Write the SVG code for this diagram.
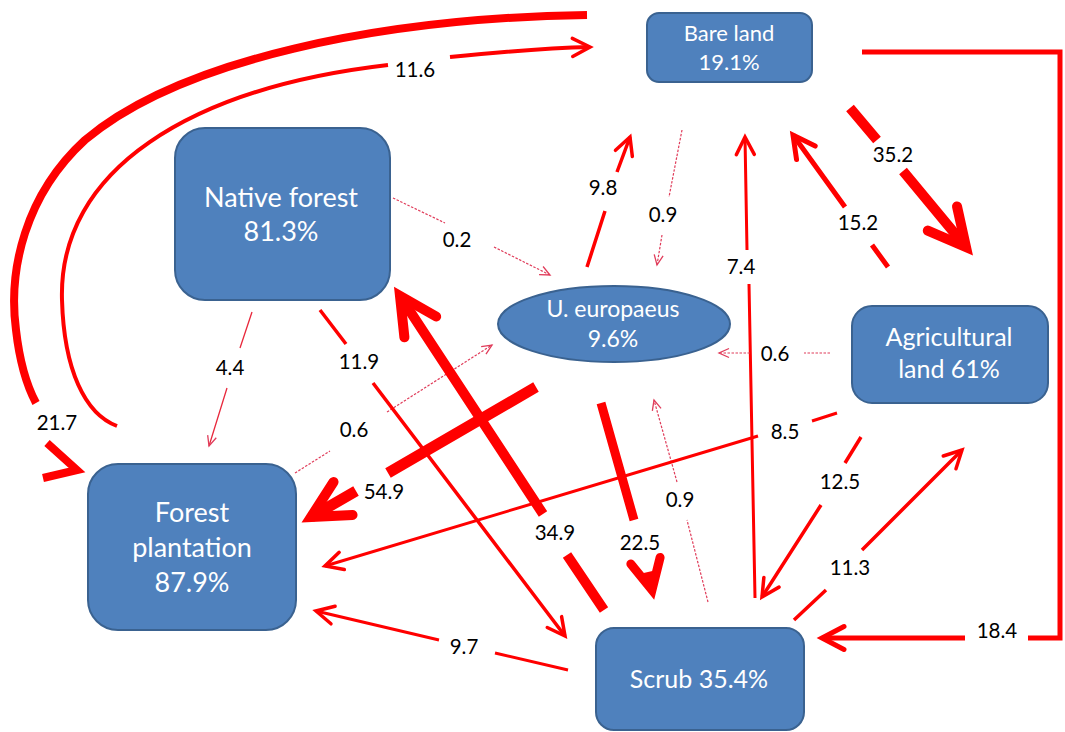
<svg xmlns="http://www.w3.org/2000/svg" width="1065" height="732" viewBox="0 0 1065 732">
<style>
.node{fill:#4F81BD;stroke:#3A6290;stroke-width:2}
.nt{font-family:Lato,"Liberation Sans",sans-serif;fill:#ffffff;text-anchor:middle}
.lb{font-family:Lato,"Liberation Sans",sans-serif;font-size:20.5px;fill:#000000;text-anchor:middle}
.c{fill:none;stroke:#FF0000;stroke-linejoin:miter}
.dot{fill:none;stroke:#E03C5A;stroke-width:1.2;stroke-dasharray:2.5 1.5}
.thin{fill:none;stroke:#E8283C;stroke-width:1.3}
</style>
<defs>
<marker id="aThick" markerUnits="userSpaceOnUse" viewBox="0 0 70 70" markerWidth="70" markerHeight="70" refX="55" refY="35" orient="auto" overflow="visible">
<path d="M18,16 L55,35 L18,54" fill="none" stroke="#FF0000" stroke-width="10" stroke-linecap="round" stroke-linejoin="miter"/>
</marker>
<marker id="aMid" markerUnits="userSpaceOnUse" viewBox="0 0 60 60" markerWidth="60" markerHeight="60" refX="45" refY="30" orient="auto" overflow="visible">
<path d="M15,15 L45,30 L15,45" fill="none" stroke="#FF0000" stroke-width="9" stroke-linecap="round" stroke-linejoin="miter"/>
</marker>
<marker id="aBig" markerUnits="userSpaceOnUse" viewBox="0 0 40 40" markerWidth="40" markerHeight="40" refX="30" refY="20" orient="auto" overflow="visible">
<path d="M8,8.5 L30,20 L8,31.5" fill="none" stroke="#FF0000" stroke-width="5" stroke-linecap="round" stroke-linejoin="miter"/>
</marker>
<marker id="aMed" markerUnits="userSpaceOnUse" viewBox="0 0 30 24" markerWidth="30" markerHeight="24" refX="24" refY="12" orient="auto" overflow="visible">
<path d="M6.5,3 L24,12 L6.5,21" fill="none" stroke="#FF0000" stroke-width="3.5" stroke-linecap="round" stroke-linejoin="miter"/>
</marker>
<marker id="aThin" markerUnits="userSpaceOnUse" viewBox="0 0 16 16" markerWidth="16" markerHeight="16" refX="13" refY="8" orient="auto" overflow="visible">
<path d="M3,3.5 L13,8 L3,12.5" fill="none" stroke="#E03C5A" stroke-width="1.3"/>
</marker>
</defs>
<rect width="1065" height="732" fill="#ffffff"/>

<g id="connectors">
<!-- 21.7 outer arc -->
<path class="c" stroke-width="8" d="M587,15 C380,18 180,60 85,140 C25,195 8,270 16,330 C20,365 28,388 36,403 M47,443 L77,470 L43,478"/>
<!-- 11.6 inner arc -->
<path class="c" stroke-width="4" marker-end="url(#aMed)" d="M117,426 C85,414 64,370 62,300 C58,170 190,88 388,65 M450,57 C500,52 550,48 590,47"/>
<!-- 18.4 -->
<path class="c" stroke-width="5" marker-end="url(#aBig)" d="M862,52 L1060,52 L1060,638 L1028,638 M965,638 L822,638"/>
<!-- 35.2 -->
<path class="c" stroke-width="10" marker-end="url(#aThick)" d="M850,108 L877,140 M903,171 L966,247"/>
<!-- 15.2 -->
<path class="c" stroke-width="5" marker-end="url(#aBig)" d="M888,267 L872,245 M845,207 L793,135"/>
<!-- 7.4 -->
<path class="c" stroke-width="3" marker-end="url(#aMed)" d="M755,598 L749,284 M747,250 L745,137"/>
<!-- 9.8 -->
<path class="c" stroke-width="3.5" marker-end="url(#aMed)" d="M587,267 L605,211 M617,172 L630,137"/>
<!-- 0.9 top dotted -->
<path class="dot" marker-end="url(#aThin)" d="M682,130 L669,197 M662,235 L657,265"/>
<!-- 0.2 dotted -->
<path class="dot" marker-end="url(#aThin)" d="M393,198 L445,223 M494,247 L550,275"/>
<!-- 0.6 right dotted -->
<path class="dot" marker-end="url(#aThin)" d="M830,353 L804,353 M750,353 L719,353"/>
<!-- 0.9 bottom dotted -->
<path class="dot" marker-end="url(#aThin)" d="M708,602 L687,520 M677,482 L654,400"/>
<!-- 4.4 -->
<path class="thin" marker-end="url(#aThin)" d="M252,312 L240,348 M227,388 L209,446"/>
<!-- 0.6 left dotted -->
<path class="dot" marker-end="url(#aThin)" d="M295,473 L330,451 M387,412 L492,345"/>
<!-- 11.9 -->
<path class="c" stroke-width="3.5" marker-end="url(#aMed)" d="M320,310 L346,344 M373,383 L565,636"/>
<!-- 34.9 -->
<path class="c" stroke-width="10" marker-end="url(#aThick)" d="M604,610 L567,555 M543,514 L400,296"/>
<!-- 54.9 -->
<path class="c" stroke-width="11" marker-end="url(#aThick)" d="M536,387 L388,473 M356,491 L311,517"/>
<!-- 22.5 -->
<path class="c" stroke-width="9" marker-end="url(#aMid)" d="M601,403 L634,520 M648,572 L652,590"/>
<!-- 8.5 -->
<path class="c" stroke-width="3" marker-end="url(#aMed)" d="M837,413 L812,421 M758,436 L325,566"/>
<!-- 12.5 -->
<path class="c" stroke-width="3.5" marker-end="url(#aMed)" d="M861,437 L845,463 M821,505 L762,597"/>
<!-- 11.3 -->
<path class="c" stroke-width="3.5" marker-end="url(#aMed)" d="M794,620 L826,590 M862,550 L962,450"/>
<!-- 9.7 -->
<path class="c" stroke-width="3" marker-end="url(#aMed)" d="M568,670 L495,653 M439,640 L316,611"/>
</g>

<g id="labels">
<text class="lb" x="415" y="77">11.6</text>
<text class="lb" x="57" y="430">21.7</text>
<text class="lb" x="893" y="162">35.2</text>
<text class="lb" x="858" y="230">15.2</text>
<text class="lb" x="741" y="274">7.4</text>
<text class="lb" x="603" y="195">9.8</text>
<text class="lb" x="663" y="222">0.9</text>
<text class="lb" x="457" y="247">0.2</text>
<text class="lb" x="775" y="361">0.6</text>
<text class="lb" x="230" y="375">4.4</text>
<text class="lb" x="359" y="369">11.9</text>
<text class="lb" x="354" y="437">0.6</text>
<text class="lb" x="384" y="499">54.9</text>
<text class="lb" x="555" y="540">34.9</text>
<text class="lb" x="640" y="550">22.5</text>
<text class="lb" x="680" y="507">0.9</text>
<text class="lb" x="785" y="439">8.5</text>
<text class="lb" x="840" y="489">12.5</text>
<text class="lb" x="850" y="575">11.3</text>
<text class="lb" x="464" y="654">9.7</text>
<text class="lb" x="997" y="638">18.4</text>
</g>

<g id="bare-land">
<rect class="node" x="647" y="13" width="165" height="69" rx="12"/>
<text class="nt" font-size="22" x="729" y="41">Bare land</text>
<text class="nt" font-size="22" x="729" y="70">19.1%</text>
</g>
<g id="native-forest">
<rect class="node" x="175" y="128" width="215" height="172" rx="30"/>
<text class="nt" font-size="27" x="281" y="207">Native forest</text>
<text class="nt" font-size="27" x="281" y="241">81.3%</text>
</g>
<g id="u-europaeus">
<ellipse class="node" cx="614" cy="324" rx="116" ry="38"/>
<text class="nt" font-size="23" x="613" y="317">U. europaeus</text>
<text class="nt" font-size="23" x="613" y="347">9.6%</text>
</g>
<g id="agricultural-land">
<rect class="node" x="852" y="306" width="196" height="97" rx="20"/>
<text class="nt" font-size="25" x="949" y="346">Agricultural</text>
<text class="nt" font-size="25" x="949" y="378">land 61%</text>
</g>
<g id="forest-plantation">
<rect class="node" x="88" y="464" width="208" height="166" rx="30"/>
<text class="nt" font-size="27" x="192" y="522">Forest</text>
<text class="nt" font-size="27" x="192" y="557">plantation</text>
<text class="nt" font-size="27" x="192" y="592">87.9%</text>
</g>
<g id="scrub">
<rect class="node" x="596" y="628" width="208" height="102" rx="18"/>
<text class="nt" font-size="25" x="699" y="688">Scrub 35.4%</text>
</g>
</svg>
